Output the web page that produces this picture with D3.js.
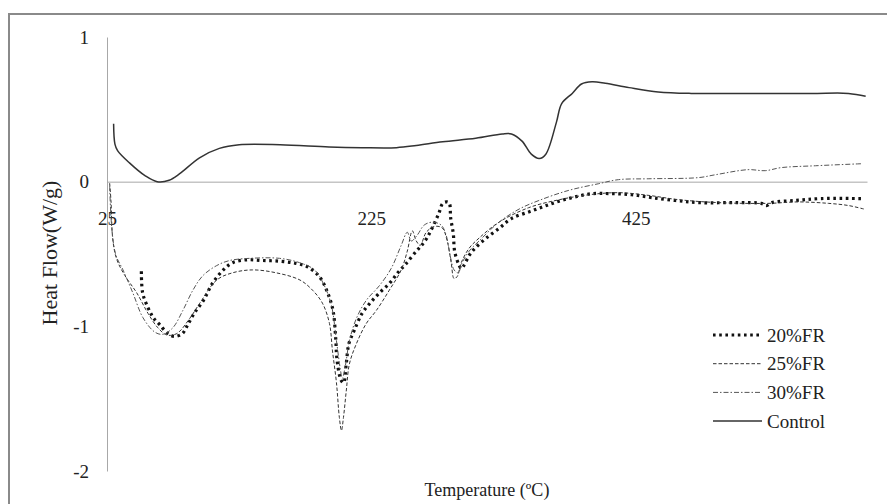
<!DOCTYPE html>
<html>
<head>
<meta charset="utf-8">
<script src="https://cdn.jsdelivr.net/npm/d3@7"></script>
<style>
  body { margin: 0; background: #fff; }
  svg { display: block; font-family: "Liberation Serif", "Times New Roman", serif; }
</style>
</head>
<body>
<svg id="chart"></svg>
<script>
// temperatures (°C) and heat flow (W/g)
var ctlT = [30, 31, 33, 42, 54, 63, 72, 80, 95, 110, 125, 156, 193, 218, 244, 259, 279, 304, 324, 331,
  339, 346, 352, 357, 365, 369, 377, 384, 392, 402, 420, 442, 467, 485, 508, 525, 546, 561, 586, 599];
var ctlHF = [0.40, 0.26, 0.215, 0.13, 0.04, 0.00, 0.01, 0.055, 0.165, 0.23, 0.255, 0.255, 0.24, 0.235, 0.235, 0.25, 0.276, 0.30, 0.33, 0.33,
  0.28, 0.19, 0.16, 0.19, 0.41, 0.54, 0.61, 0.675, 0.69, 0.68, 0.65, 0.62, 0.61, 0.61, 0.61, 0.61, 0.61, 0.61, 0.61, 0.59];

var t20 = [51, 52, 56, 60, 65, 71, 76, 82, 86, 91, 98, 105, 113, 120, 131, 143, 156, 168, 177, 186,
  192, 196, 198, 199, 202, 204, 206, 208, 212, 218, 224, 231, 239, 245, 251, 259, 263, 267, 271, 276,
  279, 282, 284, 285, 287, 288, 291, 293, 295, 299, 304, 312, 322, 331, 347, 362, 377, 392, 407, 422,
  437, 455, 473, 501, 520, 524, 528, 546, 565, 596];
var hf20 = [-0.62, -0.77, -0.87, -0.94, -0.99, -1.05, -1.07, -1.05, -0.99, -0.91, -0.82, -0.70, -0.61, -0.56, -0.54, -0.545, -0.55, -0.565, -0.59, -0.66,
  -0.77, -0.89, -1.08, -1.23, -1.37, -1.39, -1.26, -1.12, -1.03, -0.91, -0.84, -0.77, -0.70, -0.63, -0.57, -0.48, -0.44, -0.39, -0.32, -0.22,
  -0.15, -0.14, -0.15, -0.25, -0.36, -0.48, -0.57, -0.60, -0.58, -0.51, -0.455, -0.39, -0.32, -0.255, -0.20, -0.15, -0.11, -0.083, -0.083, -0.09,
  -0.11, -0.13, -0.145, -0.145, -0.15, -0.165, -0.145, -0.13, -0.117, -0.117];

var t25 = [27, 28, 29.5, 32.5, 38.6, 47.6, 56, 63.5, 70.3, 77.8, 87.6, 95.2, 108, 120, 135, 153, 171, 180.5, 188, 193.3,
  195.6, 198.6, 200.8, 202.4, 203.9, 206.1, 208.4, 213.7, 221.2, 228.8, 238.6, 247.6, 252.2, 256, 259, 262, 266.5, 272.5, 278.6, 282.4,
  285.4, 287.6, 290, 293, 299, 306.5, 321.6, 344, 367, 390, 412, 435, 457, 488, 525, 548, 571, 586, 598];
var hf25 = [-0.01, -0.13, -0.41, -0.54, -0.65, -0.77, -0.91, -1.01, -1.06, -1.05, -0.945, -0.84, -0.68, -0.63, -0.61, -0.63, -0.68, -0.75, -0.84, -0.98,
  -1.17, -1.39, -1.63, -1.72, -1.63, -1.44, -1.26, -1.12, -0.98, -0.89, -0.75, -0.61, -0.48, -0.34, -0.41, -0.44, -0.35, -0.31, -0.32, -0.41,
  -0.56, -0.67, -0.655, -0.56, -0.46, -0.39, -0.28, -0.18, -0.125, -0.09, -0.076, -0.095, -0.124, -0.145, -0.15, -0.14, -0.15, -0.165, -0.19];

var t30 = [27, 28.8, 31.8, 37.1, 44.6, 52.2, 61.2, 67.3, 74.8, 82.4, 90, 97.5, 108, 117.8, 133, 155.6, 170.7, 182, 189.5, 194.8,
  198.6, 201.6, 203, 205.4, 208.4, 213.7, 221.2, 231, 240, 247.6, 252.2, 255.2, 259.7, 265, 271, 277.8, 281.6, 284.6, 287.6, 290.7,
  293.7, 299, 306.5, 321.6, 336.7, 351.8, 374.4, 397, 412, 435, 472.5, 485.4, 510, 523, 535, 561, 596];
var hf30 = [-0.03, -0.34, -0.51, -0.61, -0.77, -0.94, -1.04, -1.055, -1.01, -0.89, -0.75, -0.65, -0.58, -0.545, -0.53, -0.53, -0.56, -0.61, -0.72, -0.855,
  -1.10, -1.30, -1.36, -1.27, -1.10, -0.945, -0.82, -0.72, -0.60, -0.44, -0.35, -0.41, -0.37, -0.30, -0.28, -0.30, -0.37, -0.51, -0.61, -0.63,
  -0.56, -0.48, -0.41, -0.28, -0.19, -0.13, -0.06, -0.014, 0.014, 0.02, 0.028, 0.048, 0.083, 0.076, 0.097, 0.11, 0.124];

var xTicks = [25, 225, 425];
var yTicks = [-2, -1, 0, 1];
var seriesNames = ["20%FR", "25%FR", "30%FR", "Control"];

drawChart();

function drawChart(){
  var W = 887, H = 504;
  var svg = d3.select('#chart').attr('width', W).attr('height', H);

  // outer frame (only top and left edges show in the picture)
  svg.append('rect')
     .attr('x', 9).attr('y', 14)
     .attr('width', 900).attr('height', 520)
     .attr('fill', 'none')
     .attr('stroke', '#8a8a8a')
     .attr('stroke-width', 2);

  var x = d3.scaleLinear().domain([25, 600]).range([107, 867]);
  var y = d3.scaleLinear().domain([-2, 1]).range([471, 37]);

  var yAxis = svg.append('g')
     .attr('transform', 'translate(107,0)')
     .call(d3.axisLeft(y).tickValues(yTicks).tickSize(0).tickPadding(18).tickFormat(function(d){ return String(d); }));
  var xAxis = svg.append('g')
     .attr('transform', 'translate(0,' + y(0) + ')')
     .call(d3.axisBottom(x).tickValues(xTicks).tickSize(0).tickPadding(30).tickFormat(function(d){ return String(d); }));

  [xAxis, yAxis].forEach(function(a){
    a.attr('font-family', null);
    a.select('.domain').attr('stroke', '#a8a8a8').attr('stroke-width', 1);
    a.selectAll('text').attr('font-family', 'Liberation Serif').attr('font-size', 19).attr('fill', '#222');
  });

  var styles = [
    {t: t20, v: hf20, dash: '2.6,3.6', w: 3.2, c: '#111'},
    {t: t25, v: hf25, dash: '3.5,2', w: 1, c: '#333'},
    {t: t30, v: hf30, dash: '5,2,1.5,2', w: 1, c: '#555'},
    {t: ctlT, v: ctlHF, dash: null, w: 1.5, c: '#333'}
  ];

  var line = d3.line()
     .x(function(d){ return x(d[0]); })
     .y(function(d){ return y(d[1]); })
     .curve(d3.curveCatmullRom.alpha(0.5));

  styles.forEach(function(s){
    var pts = s.t.map(function(t, i){ return [t, s.v[i]]; });
    svg.append('path')
       .attr('d', line(pts))
       .attr('fill', 'none')
       .attr('stroke', s.c)
       .attr('stroke-width', s.w)
       .attr('stroke-dasharray', s.dash);
  });

  // legend
  var lg = svg.append('g').attr('transform', 'translate(713,335)');
  seriesNames.forEach(function(name, i){
    var s = styles[i];
    lg.append('line')
      .attr('x1', 0).attr('x2', 49)
      .attr('y1', i * 28.7).attr('y2', i * 28.7)
      .attr('stroke', s.c)
      .attr('stroke-width', s.w)
      .attr('stroke-dasharray', s.dash);
    lg.append('text')
      .attr('x', 54).attr('y', i * 28.7)
      .attr('dy', '0.35em')
      .attr('font-size', 19)
      .attr('fill', '#222')
      .text(name);
  });

  // axis titles
  svg.append('text')
     .attr('transform', 'translate(57,253) rotate(-90)')
     .attr('text-anchor', 'middle')
     .attr('font-size', 22)
     .attr('fill', '#222')
     .text('Heat Flow(W/g)');
  svg.append('text')
     .attr('x', 487).attr('y', 496)
     .attr('text-anchor', 'middle')
     .attr('font-size', 18)
     .attr('fill', '#222')
     .text('Temperature (ºC)');
}
</script>
</body>
</html>
